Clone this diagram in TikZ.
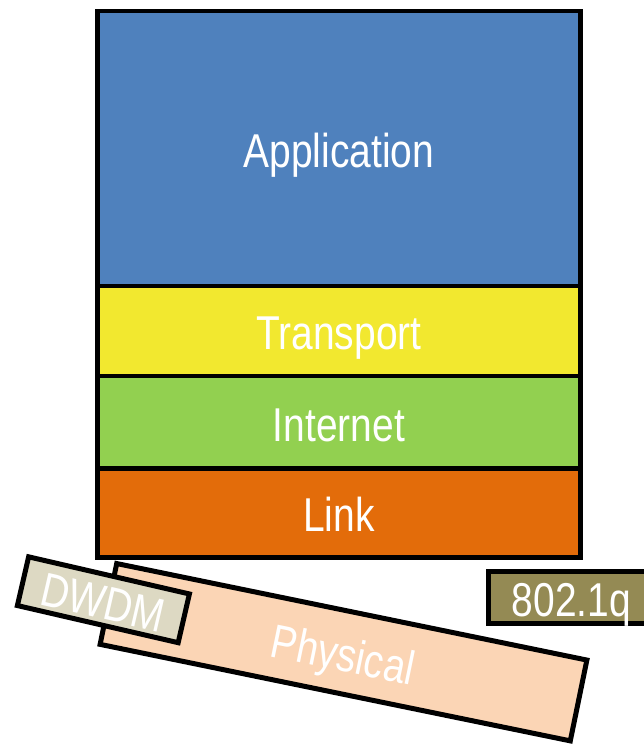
\documentclass[tikz,border=0pt]{standalone}
\usepackage{fontspec}
\setmainfont{Liberation Sans}
\newfontfamily\narrowfont{Liberation Sans}[FakeStretch=0.82]
\definecolor{appblue}{HTML}{4F81BD}
\definecolor{transyellow}{HTML}{F2E82F}
\definecolor{netgreen}{HTML}{92D050}
\definecolor{linkorange}{HTML}{E36C0A}
\definecolor{phypeach}{HTML}{FBD5B5}
\definecolor{dwdmtan}{HTML}{DDD9C3}
\definecolor{vlanolive}{HTML}{948A54}
\tikzset{
  boxtext/.style={text=white, inner sep=0pt, text height=38pt, text depth=0pt,
    font=\narrowfont\fontsize{47.5}{50}\selectfont},
  layer/.style={boxtext, draw=black, line width=4.6pt, minimum width=483.3pt},
  tilted/.style={boxtext, draw=black, line width=5pt},
  tag/.style={boxtext, draw=black, line width=5pt}
}
\begin{document}
\begin{tikzpicture}[x=1pt, y=-1pt]
  \useasboundingbox (0,0) rectangle (644,744);
  \clip (0,0) rectangle (644,744);
  % protocol stack
  \node[layer, fill=appblue, minimum height=274.8pt] (app) at (338.85,148.4) {Application};
  \node[layer, fill=transyellow, minimum height=90pt] (transport) at (338.85,330.8) {Transport};
  \node[layer, fill=netgreen, minimum height=92.5pt] (internet) at (338.85,422.05) {Internet};
  \node[layer, fill=linkorange, minimum height=89.2pt] (link) at (338.85,512.9) {Link};
  % tilted physical media boxes
  \node[tilted, fill=phypeach, minimum width=480pt, minimum height=82.5pt, rotate=-11.6] (physical) at (343.5,652.2) {Physical};
  \node[tilted, fill=dwdmtan, minimum width=165pt, minimum height=50pt, rotate=-13] (dwdm) at (103.4,599.75) {DWDM};
  % VLAN tag box, running off the right edge
  \node[tag, fill=vlanolive, minimum width=167pt, minimum height=52pt] (vlan) at (571.5,597.5) {802.1q};
\end{tikzpicture}
\end{document}
